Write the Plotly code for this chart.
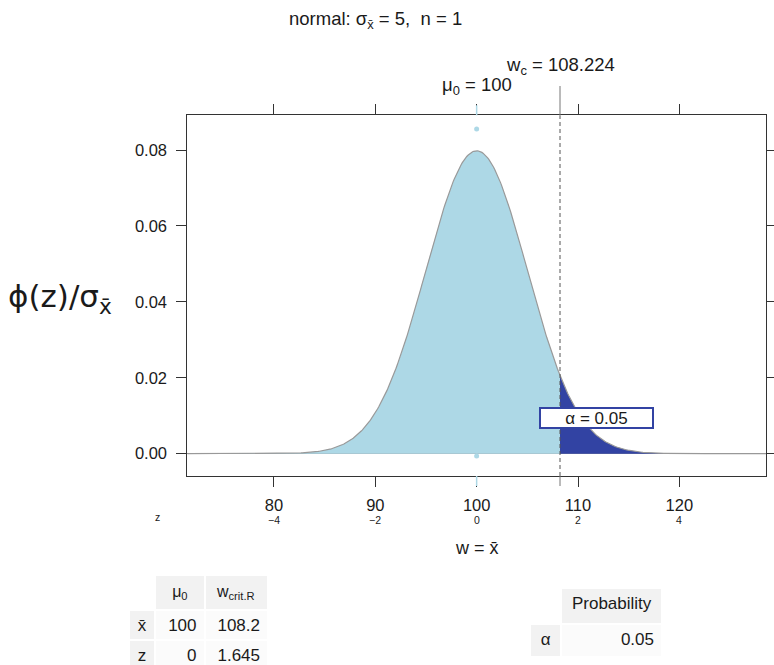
import numpy as np
import plotly.graph_objects as go

W, H = 774, 665

# ---- data / parameters ----
mu0 = 100.0
sigma = 5.0
n = 1
w_crit = 108.224
alpha = 0.05
x_range = [71.45, 128.55]
y_range = [-0.00587, 0.08914]
x_ticks = [80, 90, 100, 110, 120]
z_ticks = ["−4", "−2", "0", "2", "4"]
y_ticks = [0.00, 0.02, 0.04, 0.06, 0.08]
mu_marker_y = [0.0855, -0.0006, -0.0059]

table1_header = ["", "μ<sub>0</sub>", "w<sub>crit.R</sub>"]
table1_rows = ["x̄", "z"]
table1_mu0 = ["100", "0"]
table1_wcrit = ["108.2", "1.645"]
table2_header = ["", "Probability"]
table2_rows = ["α"]
table2_prob = ["0.05"]

LIGHT = "#ADD8E6"
DARK = "#3243A3"
GRAY = "#999999"
AX = "#333333"
TXT = "#1a1a1a"
FONT = "Liberation Sans, Arial, sans-serif"


def px(p):
    return p / W


def py(p):
    return 1 - p / H


# density curve of the normal distribution with the stated parameters
def dens(x):
    return np.exp(-0.5 * ((x - mu0) / sigma) ** 2) / (sigma * np.sqrt(2 * np.pi))


xl = np.linspace(x_range[0], w_crit, 300)
xr = np.linspace(w_crit, x_range[1], 200)
xa = np.linspace(x_range[0], x_range[1], 500)

fig = go.Figure()
fig.add_trace(go.Scatter(x=xl, y=dens(xl), mode="lines", line=dict(width=0),
                         fill="tozeroy", fillcolor=LIGHT, hoverinfo="skip", showlegend=False))
fig.add_trace(go.Scatter(x=xr, y=dens(xr), mode="lines", line=dict(width=0),
                         fill="tozeroy", fillcolor=DARK, hoverinfo="skip", showlegend=False))
fig.add_trace(go.Scatter(x=xa, y=dens(xa), mode="lines", line=dict(color=GRAY, width=1.2),
                         hoverinfo="skip", showlegend=False))
fig.add_trace(go.Scatter(x=[mu0] * len(mu_marker_y), y=mu_marker_y, mode="markers",
                         marker=dict(color=LIGHT, size=5), cliponaxis=False,
                         hoverinfo="skip", showlegend=False))

box_l, box_r, box_t, box_b = 187.3, 766, 115.3, 476

fig.update_layout(
    width=W, height=H,
    margin=dict(l=0, r=0, t=0, b=0),
    paper_bgcolor="white", plot_bgcolor="white",
    font=dict(family=FONT, color=TXT, size=16),
    showlegend=False,
    xaxis=dict(domain=[px(box_l), px(box_r)], range=x_range, automargin=False,
               tickvals=x_ticks, ticktext=[str(v) for v in x_ticks],
               tickfont=dict(size=16.5, family=FONT, color=TXT),
               ticks="outside", ticklen=10, tickcolor=AX, tickwidth=1,
               ticklabelstandoff=4,
               showline=True, linecolor=AX, linewidth=1, mirror="ticks",
               showgrid=False, zeroline=False),
    yaxis=dict(domain=[py(box_b), py(box_t)], range=y_range, automargin=False,
               tickvals=y_ticks, ticktext=[f"{v:.2f}" for v in y_ticks],
               tickfont=dict(size=16.5, family=FONT, color=TXT),
               ticks="outside", ticklen=10, tickcolor=AX, tickwidth=1,
               ticklabelstandoff=6,
               showline=True, linecolor=AX, linewidth=1, mirror="ticks",
               showgrid=False, zeroline=True, zerolinecolor=GRAY, zerolinewidth=1.2),
)

shapes = []
# critical value line: dashed inside panel, solid above and below
shapes.append(dict(type="line", xref="x", yref="paper", x0=w_crit, x1=w_crit,
                   y0=py(box_b), y1=py(box_t), line=dict(color="#555555", width=1, dash="4px,3px")))
shapes.append(dict(type="line", xref="x", yref="paper", x0=w_crit, x1=w_crit,
                   y0=py(box_t), y1=py(86), line=dict(color="#777777", width=1)))
shapes.append(dict(type="line", xref="x", yref="paper", x0=w_crit, x1=w_crit,
                   y0=py(box_b), y1=py(box_b + 10), line=dict(color="#777777", width=1)))
# light-blue ticks at mu0
shapes.append(dict(type="line", xref="x", yref="paper", x0=mu0, x1=mu0,
                   y0=py(box_t), y1=py(box_t - 10), line=dict(color=LIGHT, width=1.5)))
shapes.append(dict(type="line", xref="x", yref="paper", x0=mu0, x1=mu0,
                   y0=py(box_b), y1=py(box_b + 10), line=dict(color=LIGHT, width=1.5)))
fig.update_layout(shapes=shapes)

ann = []
ann.append(dict(text="normal: σ<sub>x̄</sub> = 5,  n = 1", xref="paper", yref="paper",
                x=px(375), y=py(20), showarrow=False, font=dict(size=18.5, family=FONT),
                xanchor="center", yanchor="middle"))
ann.append(dict(text="μ<sub>0</sub> = 100", xref="x", yref="paper", x=mu0, y=py(86),
                showarrow=False, font=dict(size=18.5, family=FONT), xanchor="center", yanchor="middle"))
ann.append(dict(text=f"w<sub>c</sub> = {w_crit}", xref="x", yref="paper", x=w_crit, y=py(66),
                showarrow=False, font=dict(size=18.5, family=FONT), xanchor="center", yanchor="middle"))
ann.append(dict(text="ϕ(z)/σ<sub>x̄</sub>", xref="paper", yref="paper", x=px(60), y=py(298),
                showarrow=False, font=dict(size=31, family="DejaVu Sans"), xanchor="center", yanchor="middle"))
ann.append(dict(text="w = x̄", xref="paper", yref="paper", x=px(476.6), y=py(548),
                showarrow=False, font=dict(size=18, family=FONT), xanchor="center", yanchor="middle"))
ann.append(dict(text="z", xref="paper", yref="paper", x=px(157), y=py(517),
                showarrow=False, font=dict(size=10.5, family=FONT), xanchor="center", yanchor="middle"))
for v, z in zip(x_ticks, z_ticks):
    ann.append(dict(text=z, xref="x", yref="paper", x=v, y=py(520), showarrow=False,
                    font=dict(size=10.5, family=FONT), xanchor="center", yanchor="middle"))
ann.append(dict(text=f"α = {alpha}", xref="x", yref="y", x=111.78, y=0.0094,
                showarrow=False, font=dict(size=17, family=FONT), bgcolor="white",
                bordercolor=DARK, borderwidth=2, width=111, height=18, borderpad=0,
                xanchor="center", yanchor="middle"))
fig.update_layout(annotations=ann)

HG = "#F2F2F2"
CW = "#FBFBFB"
fig.add_trace(go.Table(
    domain=dict(x=[px(129), px(268)], y=[0, py(575)]),
    columnwidth=[26, 49, 63],
    header=dict(values=table1_header, fill_color=["white", HG, HG], align="center",
                line=dict(color="white", width=2), height=30,
                font=dict(family=FONT, size=16, color=TXT)),
    cells=dict(values=[table1_rows, table1_mu0, table1_wcrit],
               fill_color=[HG, CW, CW], align=["center", "right", "right"],
               line=dict(color="white", width=2), height=30,
               font=dict(family=FONT, size=17, color=TXT)),
))
fig.add_trace(go.Table(
    domain=dict(x=[px(530), px(662)], y=[py(657), py(588)]),
    columnwidth=[31, 100],
    header=dict(values=table2_header, fill_color=["white", HG], align="center",
                line=dict(color="white", width=2), height=36,
                font=dict(family=FONT, size=17, color=TXT)),
    cells=dict(values=[table2_rows, table2_prob], fill_color=[HG, CW], align=["center", "right"],
               line=dict(color="white", width=2), height=33,
               font=dict(family=FONT, size=17, color=TXT)),
))

fig.write_html("out.html", config={"displayModeBar": False},
               post_script="document.body.style.margin='0';document.body.style.overflow='hidden';")
